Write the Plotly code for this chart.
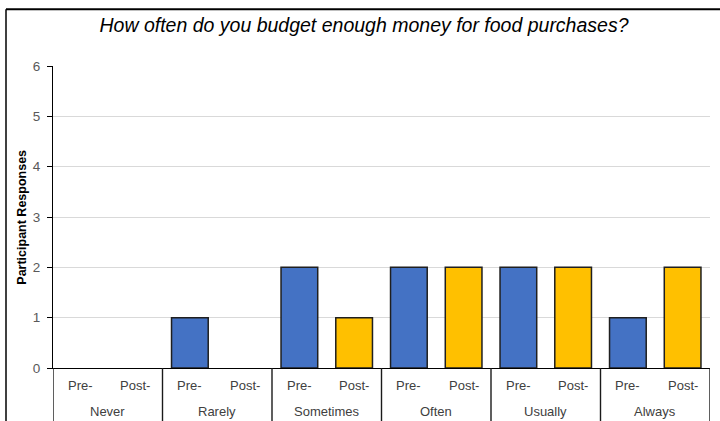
import plotly.graph_objects as go

# Survey responses per frequency category
categories = ["Never", "Rarely", "Sometimes", "Often", "Usually", "Always"]
sub_labels = ["Pre-", "Post-"]
pre_values = [0, 1, 2, 2, 2, 1]
post_values = [0, 0, 1, 2, 2, 2]
y_ticks = [0, 1, 2, 3, 4, 5, 6]

title_text = "How often do you budget enough money for food purchases?"
y_title = "Participant Responses"

W, H = 720, 421
L, R, T, B = 53, 10, 65.5, 52.5
plot_w = W - L - R
plot_h = H - T - B

FONT = "Liberation Sans"
OUTLINE = "#1f1f1f"


def outline_widths(values, width=1.5):
    # no outline on empty bars so they stay invisible
    return [width if v else 0 for v in values]


fig = go.Figure()
fig.add_trace(go.Bar(
    x=categories, y=pre_values, name="Pre-",
    marker=dict(color="#4472C4",
                line=dict(color=OUTLINE, width=outline_widths(pre_values))),
))
fig.add_trace(go.Bar(
    x=categories, y=post_values, name="Post-",
    marker=dict(color="#FFC000",
                line=dict(color=OUTLINE, width=outline_widths(post_values))),
))

annotations = []
shapes = []

# Second-level category labels (Pre-/Post-) and group names under the axis
for i, cat in enumerate(categories):
    for j, lab in enumerate(sub_labels):
        annotations.append(dict(
            x=i - 0.25 + 0.5 * j, xref="x", y=-17.5 / plot_h, yref="paper",
            text=lab, showarrow=False, xanchor="center", yanchor="middle",
            font=dict(family=FONT, size=13, color="#404040"),
        ))
    annotations.append(dict(
        x=i, xref="x", y=-43.5 / plot_h, yref="paper",
        text=cat, showarrow=False, xanchor="center", yanchor="middle",
        font=dict(family=FONT, size=13, color="#404040"),
    ))

# Group dividers running down through the label rows
for k in range(len(categories) + 1):
    shapes.append(dict(
        type="line", xref="x", yref="paper",
        x0=k - 0.5, x1=k - 0.5, y0=0, y1=-0.25,
        line=dict(color="#1a1a1a", width=1.4),
    ))

# Chart frame (top and left edges)
fx = (6 - L) / plot_w
fy = (H - B - 8.5) / plot_h
shapes.append(dict(type="line", xref="paper", yref="paper",
                   x0=fx, x1=1.2, y0=fy, y1=fy,
                   line=dict(color="#000000", width=2)))
shapes.append(dict(type="line", xref="paper", yref="paper",
                   x0=fx, x1=fx, y0=fy, y1=-0.3,
                   line=dict(color="#000000", width=1.5)))

# Rotated y-axis title
annotations.append(dict(
    x=(21.7 - L) / plot_w, xref="paper", y=0.5, yref="paper",
    text="<b>" + y_title + "</b>", textangle=-90, showarrow=False,
    xanchor="center", yanchor="middle",
    font=dict(family=FONT, size=12.5, color="#000000"),
))

fig.update_layout(
    width=W, height=H,
    margin=dict(l=L, r=R, t=T, b=B),
    paper_bgcolor="white", plot_bgcolor="white",
    barmode="group", bargap=0, bargroupgap=0.33,
    showlegend=False,
    title=dict(
        text="<i>" + title_text + "</i>",
        x=364 / W, xref="container", xanchor="center",
        y=1 - 25 / H, yref="container", yanchor="middle",
        font=dict(family=FONT, size=19.5, color="#000000"),
    ),
    xaxis=dict(
        type="category", range=[-0.5, len(categories) - 0.5],
        showticklabels=False, ticks="", showgrid=False,
        showline=True, linecolor="#000000", linewidth=1.3,
        zeroline=False, fixedrange=True,
    ),
    yaxis=dict(
        range=[0, 6], tickvals=y_ticks,
        ticks="outside", ticklen=5, tickwidth=1.3, tickcolor="#000000",
        showline=True, linecolor="#000000", linewidth=1.3,
        showgrid=True, gridcolor="#D9D9D9", gridwidth=1,
        zeroline=False, ticklabelstandoff=4,
        tickfont=dict(family=FONT, size=13.5, color="#595959"),
    ),
    annotations=annotations,
    shapes=shapes,
)

fig.write_html("out.html")
